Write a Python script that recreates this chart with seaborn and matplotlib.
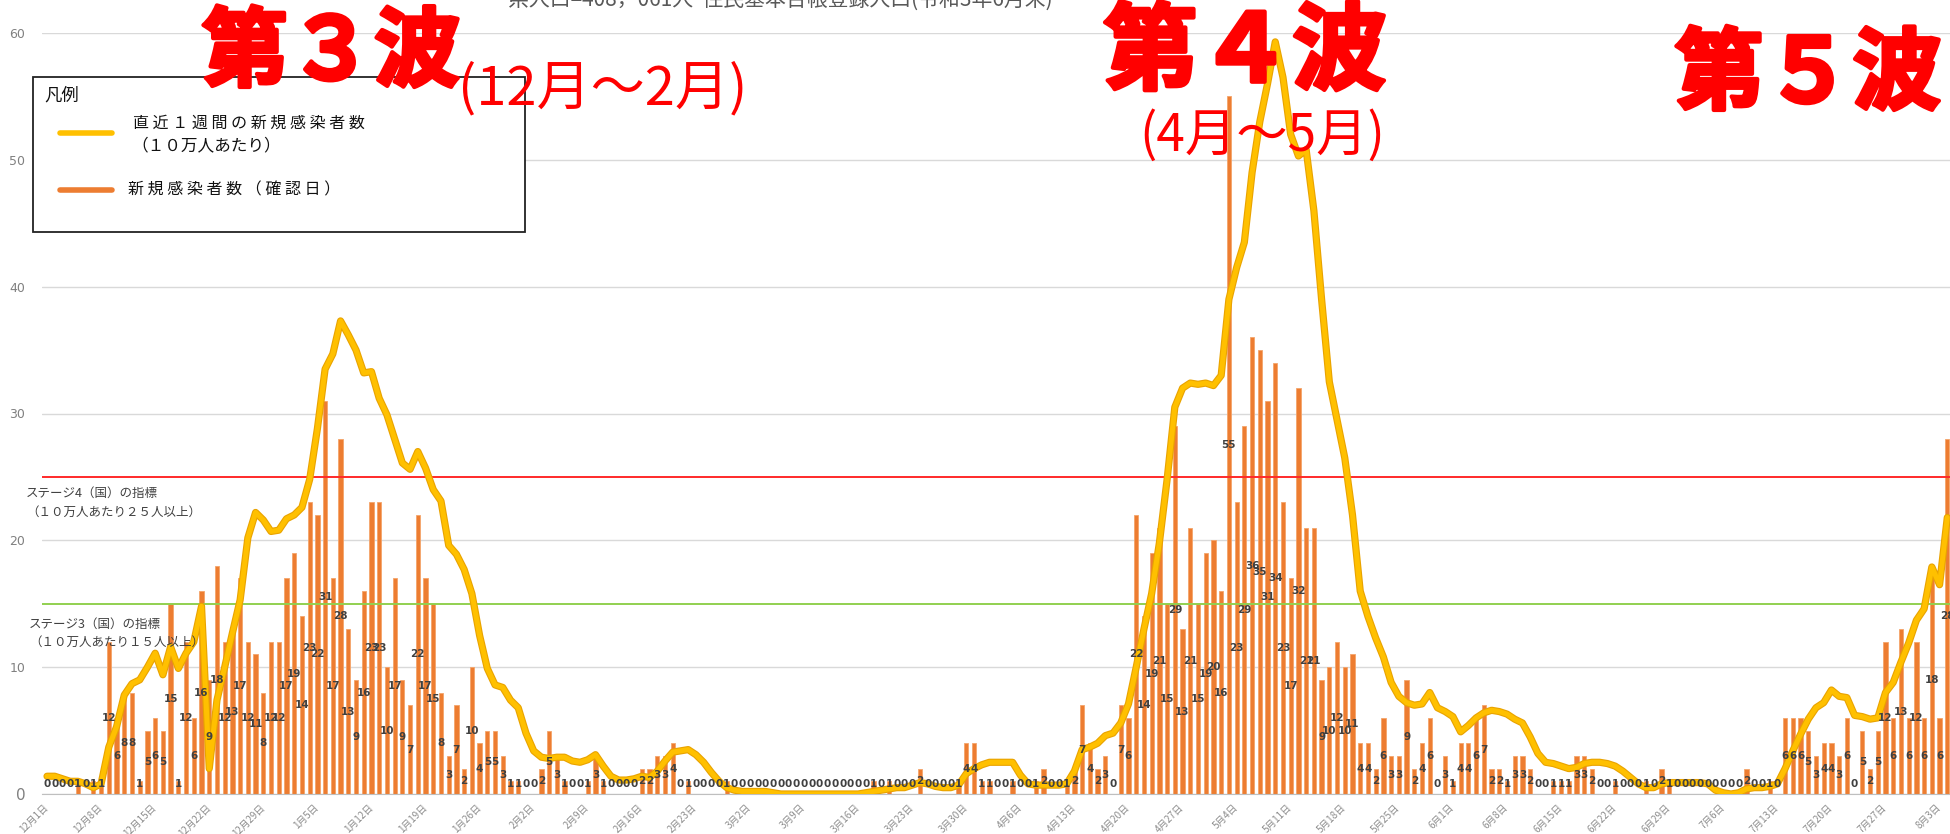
import matplotlib
matplotlib.use("Agg")
import numpy as np
import matplotlib.pyplot as plt
import matplotlib.patheffects as pe
from matplotlib.patches import Rectangle
from matplotlib.lines import Line2D
import seaborn as sns

# daily new cases (confirmed date), 2020-12-01 onwards
new_cases = [
    0, 0, 0, 0, 1, 0, 1, 1, 12, 6,
    8, 8, 1, 5, 6, 5, 15, 1, 12, 6,
    16, 9, 18, 12, 13, 17, 12, 11, 8, 12,
    12, 17, 19, 14, 23, 22, 31, 17, 28, 13,
    9, 16, 23, 23, 10, 17, 9, 7, 22, 17,
    15, 8, 3, 7, 2, 10, 4, 5, 5, 3,
    1, 1, 0, 0, 2, 5, 3, 1, 0, 0,
    1, 3, 1, 0, 0, 0, 0, 2, 2, 3,
    3, 4, 0, 1, 0, 0, 0, 0, 1, 0,
    0, 0, 0, 0, 0, 0, 0, 0, 0, 0,
    0, 0, 0, 0, 0, 0, 0, 1, 0, 1,
    0, 0, 0, 2, 0, 0, 0, 0, 1, 4,
    4, 1, 1, 0, 0, 1, 0, 0, 1, 2,
    0, 0, 1, 2, 7, 4, 2, 3, 0, 7,
    6, 22, 14, 19, 21, 15, 29, 13, 21, 15,
    19, 20, 16, 55, 23, 29, 36, 35, 31, 34,
    23, 17, 32, 21, 21, 9, 10, 12, 10, 11,
    4, 4, 2, 6, 3, 3, 9, 2, 4, 6,
    0, 3, 1, 4, 4, 6, 7, 2, 2, 1,
    3, 3, 2, 0, 0, 1, 1, 1, 3, 3,
    2, 0, 0, 1, 0, 0, 0, 1, 0, 2,
    1, 0, 0, 0, 0, 0, 0, 0, 0, 0,
    2, 0, 0, 1, 0, 6, 6, 6, 5, 3,
    4, 4, 3, 6, 0, 5, 2, 5, 12, 6,
    13, 6, 12, 6, 18, 6, 28,
]

# last 7 days new cases per 100k
weekly_per_100k = [
    1.4, 1.4, 1.2, 1.0, 1.0, 0.8, 0.5, 0.8, 3.7, 5.3,
    7.8, 8.7, 9.0, 10.0, 11.1, 9.4, 11.6, 9.9, 11.1, 12.0,
    14.8, 2.0, 7.4, 10.0, 12.7, 15.3, 20.2, 22.2, 21.6, 20.7,
    20.8, 21.7, 22.0, 22.6, 24.8, 28.8, 33.5, 34.7, 37.3, 36.2,
    35.0, 33.2, 33.3, 31.2, 29.9, 28.0, 26.1, 25.6, 27.0, 25.7,
    24.0, 23.1, 19.6, 18.9, 17.7, 15.8, 12.5, 9.9, 8.6, 8.4,
    7.4, 6.8, 4.8, 3.4, 2.9, 2.8, 2.9, 2.9, 2.6, 2.5,
    2.7, 3.1, 2.2, 1.4, 1.1, 1.1, 1.2, 1.4, 1.3, 1.8,
    2.6, 3.3, 3.4, 3.5, 3.1, 2.5, 1.7, 1.0, 0.5, 0.3,
    0.2, 0.2, 0.2, 0.2, 0.1, 0.0, 0.0, 0.0, 0.0, 0.0,
    0.0, 0.0, 0.0, 0.0, 0.0, 0.0, 0.1, 0.2, 0.3, 0.4,
    0.5, 0.5, 0.7, 0.9, 0.8, 0.6, 0.5, 0.5, 0.7, 1.6,
    2.0, 2.3, 2.5, 2.5, 2.5, 2.5, 1.5, 0.8, 0.7, 0.7,
    0.7, 0.7, 0.8, 1.8, 3.5, 3.7, 4.0, 4.6, 4.8, 5.6,
    7.1, 10.0, 13.0, 15.8, 19.8, 24.8, 30.5, 32.0, 32.4, 32.3,
    32.4, 32.2, 33.0, 39.0, 41.5, 43.5, 49.0, 53.0, 56.0, 59.3,
    56.5, 52.0, 50.3, 50.8, 46.0, 39.0, 32.5, 29.5, 26.5, 22.0,
    16.0, 14.0, 12.3, 10.8, 8.8, 7.7, 7.2, 7.0, 7.1, 8.0,
    6.8, 6.5, 6.1, 4.9, 5.4, 6.0, 6.4, 6.6, 6.5, 6.3,
    5.9, 5.6, 4.5, 3.2, 2.5, 2.4, 2.2, 2.0, 2.1, 2.4,
    2.5, 2.5, 2.4, 2.2, 1.8, 1.3, 0.8, 0.5, 0.5, 0.8,
    0.9, 0.9, 0.9, 0.9, 0.9, 0.8, 0.3, 0.1, 0.0, 0.1,
    0.4, 0.5, 0.5, 0.6, 0.8, 2.0, 3.4, 4.7, 5.9, 6.8,
    7.2, 8.2, 7.7, 7.6, 6.2, 6.1, 5.9, 6.0, 8.0, 8.8,
    10.4, 11.9, 13.7, 14.6, 17.9, 16.5, 21.8,
]

tick_labels = [
    "12月1日", "12月8日", "12月15日", "12月22日", "12月29日", "1月5日",
    "1月12日", "1月19日", "1月26日", "2月2日", "2月9日", "2月16日",
    "2月23日", "3月2日", "3月9日", "3月16日", "3月23日", "3月30日",
    "4月6日", "4月13日", "4月20日", "4月27日", "5月4日", "5月11日",
    "5月18日", "5月25日", "6月1日", "6月8日", "6月15日", "6月22日",
    "6月29日", "7月6日", "7月13日", "7月20日", "7月27日", "8月3日",
]

stage4_level = 25
stage3_level = 15

W, H = 1950, 834
day = np.arange(len(new_cases))

sns.set_style("white")
plt.rcParams["font.family"] = ["Noto Sans CJK JP", "DejaVu Sans"]

fig = plt.figure(figsize=(W / 100, H / 100), dpi=100)
ax = fig.add_axes([42 / W, 40 / H, (W - 42) / W, (794 - 33) / H])


def fx(px):
    return px / W


def fy(py):
    return 1 - py / H


# bars
sns.barplot(x=day, y=new_cases, native_scale=True, width=0.55,
            color="#ED7D31", saturation=1, edgecolor="#F4A46A",
            linewidth=0.6, errorbar=None, ax=ax, zorder=2)

# bar labels at the middle of each bar
for i, v in zip(day, new_cases):
    ax.text(i, max(v / 2, 0.75), str(v), ha="center", va="center",
            fontsize=7.5, color="#404040", fontweight="bold",
            family=["DejaVu Sans"], zorder=5)

# weekly line
sns.lineplot(x=day, y=weekly_per_100k, ax=ax, color="#FFC000",
             linewidth=3.6, zorder=4,
             path_effects=[pe.Stroke(linewidth=5.2, foreground="#E9A300"),
                           pe.Normal()])

# stage lines
ax.axhline(stage4_level, color="#FF2A2A", lw=1.4, zorder=3)
ax.axhline(stage3_level, color="#92D050", lw=1.4, zorder=3)

ax.set_xlim(-0.65, 246.35)
ax.set_ylim(0, 60)
ax.set_yticks(range(0, 61, 10))
ax.set_yticklabels([str(t) for t in range(0, 61, 10)], color="#808080",
                   fontsize=9, family=["DejaVu Sans"])
ax.get_yticklabels()[0].set_fontsize(11)
ax.grid(axis="y", color="#D9D9D9", lw=1)
ax.grid(axis="x", visible=False)
ax.set_axisbelow(True)
ax.tick_params(axis="y", length=0, pad=12)

ax.set_xticks(np.arange(0, len(new_cases), 7) - 0.5)
ax.set_xticklabels(tick_labels, rotation=45, ha="right", va="top",
                   rotation_mode="anchor", fontsize=7, color="#8C8C8C")
ax.tick_params(axis="x", length=4, color="#BFBFBF", pad=2)
ax.set_xlabel("")
ax.set_ylabel("")
for s in ["top", "left", "right"]:
    ax.spines[s].set_visible(False)
ax.spines["bottom"].set_color("#BFBFBF")

# stage annotations
note_style = dict(fontsize=9, color="#404040", va="center", ha="left")
fig.text(fx(26), fy(493), "ステージ4（国）の指標", **note_style)
fig.text(fx(26), fy(512), "（１０万人あたり２５人以上）", **note_style)
fig.text(fx(29), fy(624), "ステージ3（国）の指標", **note_style)
fig.text(fx(29), fy(642), "（１０万人あたり１５人以上）", **note_style)

# legend box
fig.patches.append(Rectangle((fx(33), fy(232)), fx(525 - 33), (232 - 77) / H,
                             transform=fig.transFigure, fill=True,
                             facecolor="white", edgecolor="#222222", lw=1.3,
                             zorder=6))
fig.text(fx(44), fy(96), "凡例", fontsize=12.5, color="#111111",
         va="center", ha="left", zorder=7)
fig.lines.append(Line2D([fx(60), fx(112)], [fy(133), fy(133)],
                        transform=fig.transFigure, color="#FFC000", lw=4,
                        zorder=7))
fig.text(fx(133), fy(123), " ".join("直近１週間の新規感染者数"), fontsize=11.5,
         color="#111111", va="center", ha="left", zorder=7)
fig.text(fx(131), fy(146), "（１０万人あたり）", fontsize=12,
         color="#111111", va="center", ha="left", zorder=7)
fig.lines.append(Line2D([fx(60), fx(112)], [fy(190), fy(190)],
                        transform=fig.transFigure, color="#ED7D31", lw=4,
                        zorder=7))
fig.text(fx(128), fy(190), " ".join("新規感染者数（確認日）"), fontsize=11.5,
         color="#111111", va="center", ha="left", zorder=7)

# header (cut off at the top)
fig.text(fx(780), fy(0), "県人口=408，061人  住民基本台帳登録人口(令和3年6月末)",
         fontsize=15, color="#595959", va="center", ha="center")

# wave titles
thick = [pe.withStroke(linewidth=3, foreground="#FF0000")]
wave_style = dict(color="#FF0000", fontweight="bold", ha="center",
                  va="center", zorder=10, path_effects=thick)
fig.text(fx(331), fy(54), "第３波", fontsize=62, **wave_style)
fig.text(fx(1245), fy(54), "第４波", fontsize=68, **wave_style)
fig.text(fx(1808), fy(76), "第５波", fontsize=64, **wave_style)
fig.text(fx(458), fy(89), "(12月～2月)", fontsize=39, color="#FF0000",
         ha="left", va="center", zorder=10)
fig.text(fx(1262), fy(136), "(4月～5月)", fontsize=37, color="#FF0000",
         ha="center", va="center", zorder=10)

fig.savefig("out.png", dpi=100)
